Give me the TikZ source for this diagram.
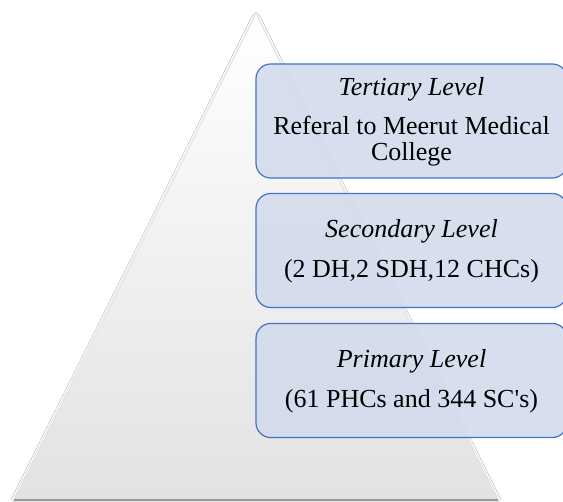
\documentclass[tikz,border=0pt]{standalone}
\usepackage{fontspec}
\setmainfont{Liberation Serif}
\usetikzlibrary{shadows.blur}
\definecolor{boxfill}{RGB}{210,218,235}
\definecolor{boxline}{RGB}{68,114,196}
\definecolor{pyrbot}{RGB}{226,226,226}
\tikzset{
  levelbox/.style={draw=boxline, line width=0.9pt, fill=boxfill, fill opacity=0.88, text opacity=1,
    rounded corners=11pt, minimum width=233.25pt, minimum height=85.5pt,
    align=center, inner sep=0pt, font=\fontsize{19.5}{19.8}\selectfont},
  pyramid/.style={top color=white, bottom color=pyrbot, draw=none,
    blur shadow={shadow xshift=0pt, shadow yshift=-0.6pt, shadow blur radius=2.5pt, shadow opacity=30}}
}
\begin{document}
\begin{tikzpicture}[x=0.75pt,y=-0.75pt]
\useasboundingbox (0,0) rectangle (563,502);
\fill[white] (0,0) rectangle (563,502);
\path[pyramid] (256,15) -- (498,500) -- (14,500) -- cycle;
\coordinate (bl) at (14,500);
\coordinate (br) at (498,500);
\draw[gray!80, line width=0.8pt] (bl) -- (br);
\node[levelbox, text depth=3pt] (tert) at (411.5,121) {\textit{Tertiary Level}\\[9.75pt]Referal to Meerut Medical\\College};
\node[levelbox, text depth=3pt] (sec) at (411.5,250.5) {\textit{Secondary Level}\\[9.75pt](2 DH,2 SDH,12 CHCs)};
\node[levelbox, text depth=3pt] (prim) at (411.5,380.5) {\textit{Primary Level}\\[9.75pt](61 PHCs and 344 SC\textquotesingle s)};
\end{tikzpicture}
\end{document}
